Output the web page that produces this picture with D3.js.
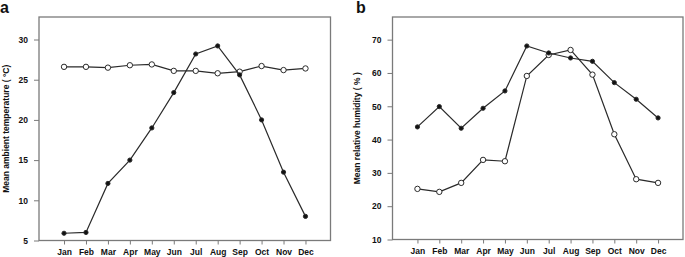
<!DOCTYPE html>
<html>
<head>
  <meta charset="utf-8">
  <title>Temperature and humidity</title>
  <style>
    body { margin: 0; background: #fff; }
    svg text { font-family: "Liberation Sans", Arial, sans-serif; fill: #111; }
  </style>
</head>
<body>
  <svg id="chart" width="685" height="257"></svg>

  <script src="https://d3js.org/d3.v7.min.js"></script>
  <script>
    // months on x
    const months = ["Jan", "Feb", "Mar", "Apr", "May", "Jun", "Jul", "Aug", "Sep", "Oct", "Nov", "Dec"];

    // panel a: mean ambient temperature
    const tempFilled = [5.9, 6.0, 12.1, 15.0, 19.0, 23.4, 28.2, 29.2, 25.6, 20.0, 13.5, 8.0];
    const tempOpen = [26.6, 26.6, 26.5, 26.8, 26.9, 26.1, 26.1, 25.8, 26.0, 26.7, 26.2, 26.4];
    const tempTicks = [5, 10, 15, 20, 25, 30];

    // panel b: mean relative humidity
    const humFilled = [43.8, 49.9, 43.4, 49.4, 54.6, 68.1, 66.0, 64.5, 63.5, 57.1, 52.1, 46.5];
    const humOpen = [25.2, 24.3, 27.0, 33.9, 33.5, 59.1, 65.4, 66.9, 59.5, 41.6, 28.1, 27.0];
    const humTicks = [10, 20, 30, 40, 50, 60, 70];

    const svg = d3.select("#chart");

    function panel(opt) {
      const x = d3.scalePoint().domain(months).range([opt.left, opt.right]).padding(1.14);
      const y = d3.scaleLinear().domain(opt.domain).range([opt.bottom, opt.top]);
      const g = svg.append("g");

      // frame
      g.append("rect")
        .attr("x", opt.left).attr("y", opt.top)
        .attr("width", opt.right - opt.left).attr("height", opt.bottom - opt.top)
        .attr("fill", "none").attr("stroke", "#7a7a7a").attr("stroke-width", 1.3);

      // y axis
      const yAxis = g.append("g")
        .attr("transform", "translate(" + opt.left + ",0)")
        .call(d3.axisLeft(y).tickValues(opt.ticks).tickSize(5).tickPadding(6));
      yAxis.select(".domain").remove();
      yAxis.selectAll("line").attr("stroke", "#7a7a7a");
      yAxis.selectAll("text").style("font-size", "8.5px").style("font-weight", "bold")
        .style("font-family", "Liberation Sans, Arial, sans-serif");

      // x axis
      const xAxis = g.append("g")
        .attr("transform", "translate(0," + opt.bottom + ")")
        .call(d3.axisBottom(x).tickSize(4).tickPadding(4));
      xAxis.select(".domain").remove();
      xAxis.selectAll("line").attr("stroke", "#7a7a7a");
      xAxis.selectAll("text").style("font-size", "8.5px").style("font-weight", "bold")
        .style("font-family", "Liberation Sans, Arial, sans-serif");

      // axis title
      g.append("text")
        .attr("transform", "translate(" + opt.titleX + "," + ((opt.top + opt.bottom) / 2) + ") rotate(-90)")
        .attr("text-anchor", "middle")
        .attr("dy", "0.35em")
        .style("font-size", "8.5px").style("font-weight", "bold")
        .text(opt.title);

      // panel letter
      g.append("text")
        .attr("x", opt.letterX).attr("y", 13)
        .style("font-size", "16px").style("font-weight", "bold")
        .text(opt.letter);

      const line = d3.line().x((d, i) => x(months[i])).y(d => y(d));

      [opt.open, opt.filled].forEach((series, k) => {
        const filled = k === 1;
        g.append("path")
          .datum(series)
          .attr("d", line)
          .attr("fill", "none")
          .attr("stroke", "#2a2a2a")
          .attr("stroke-width", 1.2);
        g.selectAll(null)
          .data(series)
          .join("circle")
          .attr("cx", (d, i) => x(months[i]))
          .attr("cy", d => y(d))
          .attr("r", filled ? 2.1 : 2.7)
          .attr("fill", filled ? "#111" : "#fff")
          .attr("stroke", "#2a2a2a")
          .attr("stroke-width", 1);
      });
    }

    panel({
      left: 39, right: 330.5, top: 17, bottom: 240.5,
      domain: [5, 32.8], ticks: tempTicks,
      filled: tempFilled, open: tempOpen,
      title: "Mean ambient temperature ( \u00b0C)", titleX: 6,
      letter: "a", letterX: 0
    });

    panel({
      left: 392.5, right: 683, top: 17, bottom: 239.5,
      domain: [10, 76.8], ticks: humTicks,
      filled: humFilled, open: humOpen,
      title: "Mean relative humidity ( % )", titleX: 357,
      letter: "b", letterX: 356
    });
  </script>
</body>
</html>
